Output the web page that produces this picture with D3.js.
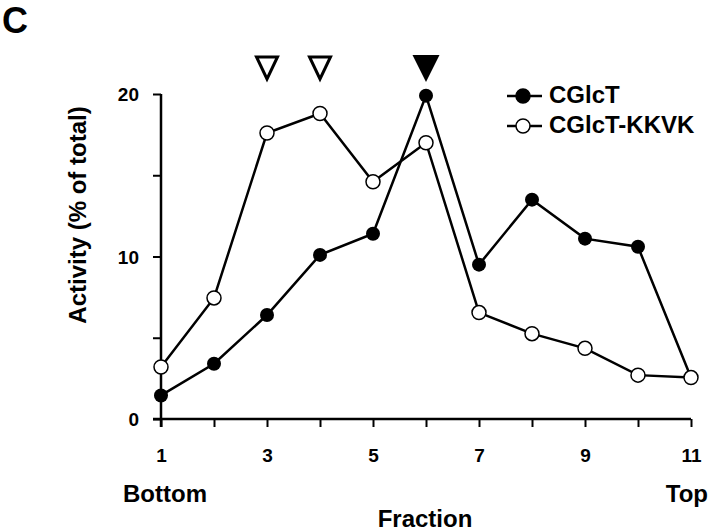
<!DOCTYPE html>
<html>
<head>
<meta charset="utf-8">
<script src="https://cdn.jsdelivr.net/npm/d3@7"></script>
<style>
  body { margin: 0; background: #fff; }
  text { font-family: "Liberation Sans", Arial, sans-serif; font-weight: bold; fill: #000; }
</style>
</head>
<body>
<div id="chart"></div>
<script>
'use strict';

// fractions along the gradient, bottom to top
let fractions = [1, 2, 3, 4, 5, 6, 7, 8, 9, 10, 11];
let cglct = [1.45, 3.4, 6.4, 10.1, 11.4, 19.9, 9.5, 13.5, 11.1, 10.6, 2.55];
let cglct_kkvk = [3.2, 7.45, 17.6, 18.8, 14.6, 17.0, 6.55, 5.25, 4.35, 2.7, 2.55];
let x_ticks = [1, 2, 3, 4, 5, 6, 7, 8, 9, 10, 11];
let x_labels = [1, 3, 5, 7, 9, 11];
let y_ticks = [0, 5, 10, 15, 20];
let y_labels = [0, 10, 20];
let open_markers = [3, 4];
let filled_markers = [6];

let width = 720, height = 531;

let svg = d3.select("#chart").append("svg")
    .attr("width", width)
    .attr("height", height);

let x = d3.scaleLinear().domain([1, 11]).range([161, 691]);
let y = d3.scaleLinear().domain([0, 20]).range([419, 94]);

// y axis
let yAxis = d3.axisLeft(y)
    .tickValues(y_ticks)
    .tickSize(8)
    .tickFormat(function(d) { return y_labels.indexOf(d) >= 0 ? d : ""; });

let gy = svg.append("g")
    .attr("transform", "translate(" + x(1) + ",0)")
    .call(yAxis);
gy.select(".domain").attr("d", "M0," + y(20) + "V" + (y(0) + 8)).attr("stroke-width", 2.5);
gy.selectAll(".tick line").attr("stroke-width", 2);
gy.selectAll(".tick text")
    .attr("x", -22)
    .attr("dy", "0.36em")
    .style("font-size", "19px")
    .style("font-family", "'Liberation Sans', Arial, sans-serif")
    .style("font-weight", "bold");

// x axis
let xAxis = d3.axisBottom(x)
    .tickValues(x_ticks)
    .tickSize(8)
    .tickFormat(function(d) { return x_labels.indexOf(d) >= 0 ? d : ""; });

let gx = svg.append("g")
    .attr("transform", "translate(0," + y(0) + ")")
    .call(xAxis);
gx.select(".domain").attr("d", "M" + (x(1) - 8) + ",0H" + x(11)).attr("stroke-width", 2.5);
gx.selectAll(".tick line").attr("stroke-width", 2);
gx.selectAll(".tick text")
    .attr("y", 36)
    .attr("dy", "0.36em")
    .style("font-size", "19px")
    .style("font-family", "'Liberation Sans', Arial, sans-serif")
    .style("font-weight", "bold");

// axis titles and labels
svg.append("text")
    .attr("transform", "translate(86,215) rotate(-90)")
    .attr("text-anchor", "middle")
    .style("font-size", "24px")
    .text("Activity (% of total)");

svg.append("text")
    .attr("x", 425).attr("y", 527)
    .attr("text-anchor", "middle")
    .style("font-size", "24px")
    .text("Fraction");

svg.append("text")
    .attr("x", 123).attr("y", 502)
    .style("font-size", "24px")
    .text("Bottom");

svg.append("text")
    .attr("x", 708).attr("y", 502)
    .attr("text-anchor", "end")
    .style("font-size", "24px")
    .text("Top");

svg.append("text")
    .attr("x", 2).attr("y", 33)
    .style("font-size", "36px")
    .text("C");

// lines
let line = d3.line()
    .x(function(d, i) { return x(fractions[i]); })
    .y(function(d) { return y(d); });

svg.append("path")
    .datum(cglct)
    .attr("d", line)
    .attr("fill", "none")
    .attr("stroke", "#000")
    .attr("stroke-width", 2.5);

svg.append("path")
    .datum(cglct_kkvk)
    .attr("d", line)
    .attr("fill", "none")
    .attr("stroke", "#000")
    .attr("stroke-width", 2.5);

svg.append("g").selectAll("circle")
    .data(cglct)
    .enter().append("circle")
    .attr("cx", function(d, i) { return x(fractions[i]); })
    .attr("cy", function(d) { return y(d); })
    .attr("r", 7)
    .attr("fill", "#000");

svg.append("g").selectAll("circle")
    .data(cglct_kkvk)
    .enter().append("circle")
    .attr("cx", function(d, i) { return x(fractions[i]); })
    .attr("cy", function(d) { return y(d); })
    .attr("r", 7)
    .attr("fill", "#fff")
    .attr("stroke", "#000")
    .attr("stroke-width", 1.5);

// peak markers above the plot
let tri = function(cx, w, top, bot) {
    return "M" + (cx - w / 2) + "," + top + "L" + (cx + w / 2) + "," + top + "L" + cx + "," + bot + "Z";
};

svg.append("g").selectAll("path")
    .data(open_markers)
    .enter().append("path")
    .attr("d", function(d) { return tri(x(d), 21, 57, 79); })
    .attr("fill", "#fff")
    .attr("stroke", "#000")
    .attr("stroke-width", 3)
    .attr("stroke-linejoin", "miter");

svg.append("g").selectAll("path")
    .data(filled_markers)
    .enter().append("path")
    .attr("d", function(d) { return tri(x(d), 27, 55, 82); })
    .attr("fill", "#000");

// legend
let legend = [
    {name: "CGlcT", fill: "#000"},
    {name: "CGlcT-KKVK", fill: "#fff"}
];

let lg = svg.append("g").selectAll("g")
    .data(legend)
    .enter().append("g")
    .attr("transform", function(d, i) { return "translate(0," + (96 + i * 30) + ")"; });

lg.append("line")
    .attr("x1", 507).attr("x2", 542)
    .attr("stroke", "#000")
    .attr("stroke-width", 2.5);

lg.append("circle")
    .attr("cx", 523)
    .attr("r", 7)
    .attr("fill", function(d) { return d.fill; })
    .attr("stroke", "#000")
    .attr("stroke-width", 1.5);

lg.append("text")
    .attr("x", 549).attr("y", 7)
    .style("font-size", "24px")
    .text(function(d) { return d.name; });
</script>
</body>
</html>
